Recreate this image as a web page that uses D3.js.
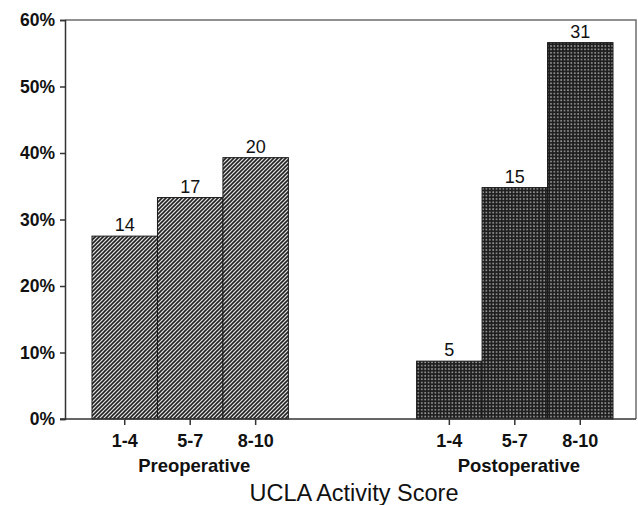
<!DOCTYPE html>
<html>
<head>
<meta charset="utf-8">
<script src="https://cdn.jsdelivr.net/npm/d3@7"></script>
<style>
  body { margin: 0; background: #fff; }
  svg { display: block; font-family: "Liberation Sans", Arial, sans-serif; }
</style>
</head>
<body>
<svg id="chart" width="638" height="505"></svg>
<script>
// chart data
var groups = ["Preoperative", "Postoperative"];
var categories = ["1-4", "5-7", "8-10"];
var preValues = [0.275, 0.333, 0.393];
var postValues = [0.087, 0.348, 0.566];
var preCounts = [14, 17, 20];
var postCounts = [5, 15, 31];
var yTicks = [0, 0.1, 0.2, 0.3, 0.4, 0.5, 0.6];

var data = [
    {group: groups[0], values: preValues, counts: preCounts, fill: "url(#hatch)"},
    {group: groups[1], values: postValues, counts: postCounts, fill: "url(#dots)"}
];

var width = 638, height = 505;
var margin = {top: 20, right: 2, bottom: 86, left: 65};

var svg = d3.select("#chart");

// fill patterns
var defs = svg.append("defs");
var hatch = defs.append("pattern")
    .attr("id", "hatch")
    .attr("patternUnits", "userSpaceOnUse")
    .attr("width", 4).attr("height", 4);
hatch.append("rect").attr("width", 4).attr("height", 4).attr("fill", "#e4e4e4");
hatch.append("path")
    .attr("d", "M-1,1 l2,-2 M0,4 l4,-4 M3,5 l2,-2")
    .attr("stroke", "#222")
    .attr("stroke-width", 1.6);

var dots = defs.append("pattern")
    .attr("id", "dots")
    .attr("patternUnits", "userSpaceOnUse")
    .attr("width", 3.4).attr("height", 3.4);
dots.append("rect").attr("width", 3.4).attr("height", 3.4).attr("fill", "#1e1e1e");
dots.append("rect").attr("x", 1).attr("y", 1).attr("width", 1.6).attr("height", 1.6).attr("fill", "#9c9c9c");

var x0 = d3.scaleBand()
    .domain(groups)
    .range([margin.left, width - margin.right])
    .paddingInner(0.395)
    .paddingOuter(0.077)
    .align(0.54);

var x1 = d3.scaleBand()
    .domain(categories)
    .range([0, x0.bandwidth()])
    .padding(0);

var y = d3.scaleLinear()
    .domain([0, 0.6])
    .range([height - margin.bottom, margin.top]);

// frame top and right
svg.append("path")
    .attr("d", "M" + margin.left + "," + y(0.6) + "H" + (width - margin.right) + "V" + y(0))
    .attr("fill", "none")
    .attr("stroke", "#6e6e6e")
    .attr("stroke-width", 1.5);

// bars
var g = svg.selectAll(".group")
    .data(data)
    .enter().append("g")
    .attr("class", "group")
    .attr("transform", function(d) { return "translate(" + x0(d.group) + ",0)"; });

g.selectAll("rect")
    .data(function(d) {
        return categories.map(function(c, i) { return {cat: c, value: d.values[i], count: d.counts[i], fill: d.fill}; });
    })
    .enter().append("rect")
    .attr("x", function(d) { return x1(d.cat); })
    .attr("y", function(d) { return y(d.value); })
    .attr("width", x1.bandwidth())
    .attr("height", function(d) { return y(0) - y(d.value); })
    .attr("fill", function(d) { return d.fill; })
    .attr("stroke", "#1a1a1a")
    .attr("stroke-width", 1);

// count labels
g.selectAll("text.count")
    .data(function(d) {
        return categories.map(function(c, i) { return {cat: c, value: d.values[i], count: d.counts[i]}; });
    })
    .enter().append("text")
    .attr("class", "count")
    .attr("x", function(d) { return x1(d.cat) + x1.bandwidth() / 2; })
    .attr("y", function(d) { return y(d.value) - 5; })
    .attr("text-anchor", "middle")
    .attr("font-size", 18)
    .attr("fill", "#111")
    .text(function(d) { return d.count; });

// y axis
var yAxis = d3.axisLeft(y)
    .tickValues(yTicks)
    .tickFormat(d3.format(".0%"))
    .tickSize(5)
    .tickPadding(5);

var yg = svg.append("g")
    .attr("transform", "translate(" + margin.left + ",0)")
    .call(yAxis);
yg.select(".domain").attr("stroke", "#333").attr("stroke-width", 1.5);
yg.selectAll(".tick line").attr("stroke", "#333").attr("stroke-width", 1.5);
yg.selectAll(".tick text")
    .attr("font-size", 17.5)
    .attr("font-weight", "bold")
    .attr("fill", "#111")
    .attr("font-family", "Liberation Sans, Arial, sans-serif");

// x axis line
svg.append("line")
    .attr("x1", margin.left - 5)
    .attr("x2", width - margin.right)
    .attr("y1", y(0)).attr("y2", y(0))
    .attr("stroke", "#333")
    .attr("stroke-width", 1.5);

// x ticks and labels per group
data.forEach(function(d) {
    var ax = d3.axisBottom(x1).tickSize(6).tickPadding(9);
    var xg = svg.append("g")
        .attr("transform", "translate(" + x0(d.group) + "," + y(0) + ")")
        .call(ax);
    xg.select(".domain").remove();
    xg.selectAll(".tick line").attr("stroke", "#333").attr("stroke-width", 1.5);
    xg.selectAll(".tick text")
        .attr("font-size", 18)
        .attr("font-weight", "bold")
        .attr("fill", "#111")
        .attr("font-family", "Liberation Sans, Arial, sans-serif");

    svg.append("text")
        .attr("x", x0(d.group) + x0.bandwidth() / 2 + 4)
        .attr("y", 472)
        .attr("text-anchor", "middle")
        .attr("font-size", 18.5)
        .attr("font-weight", "bold")
        .attr("fill", "#111")
        .text(d.group);
});

// axis title
svg.append("text")
    .attr("x", 354)
    .attr("y", 501)
    .attr("text-anchor", "middle")
    .attr("font-size", 23.5)
    .attr("fill", "#111")
    .text("UCLA Activity Score");
</script>
</body>
</html>
